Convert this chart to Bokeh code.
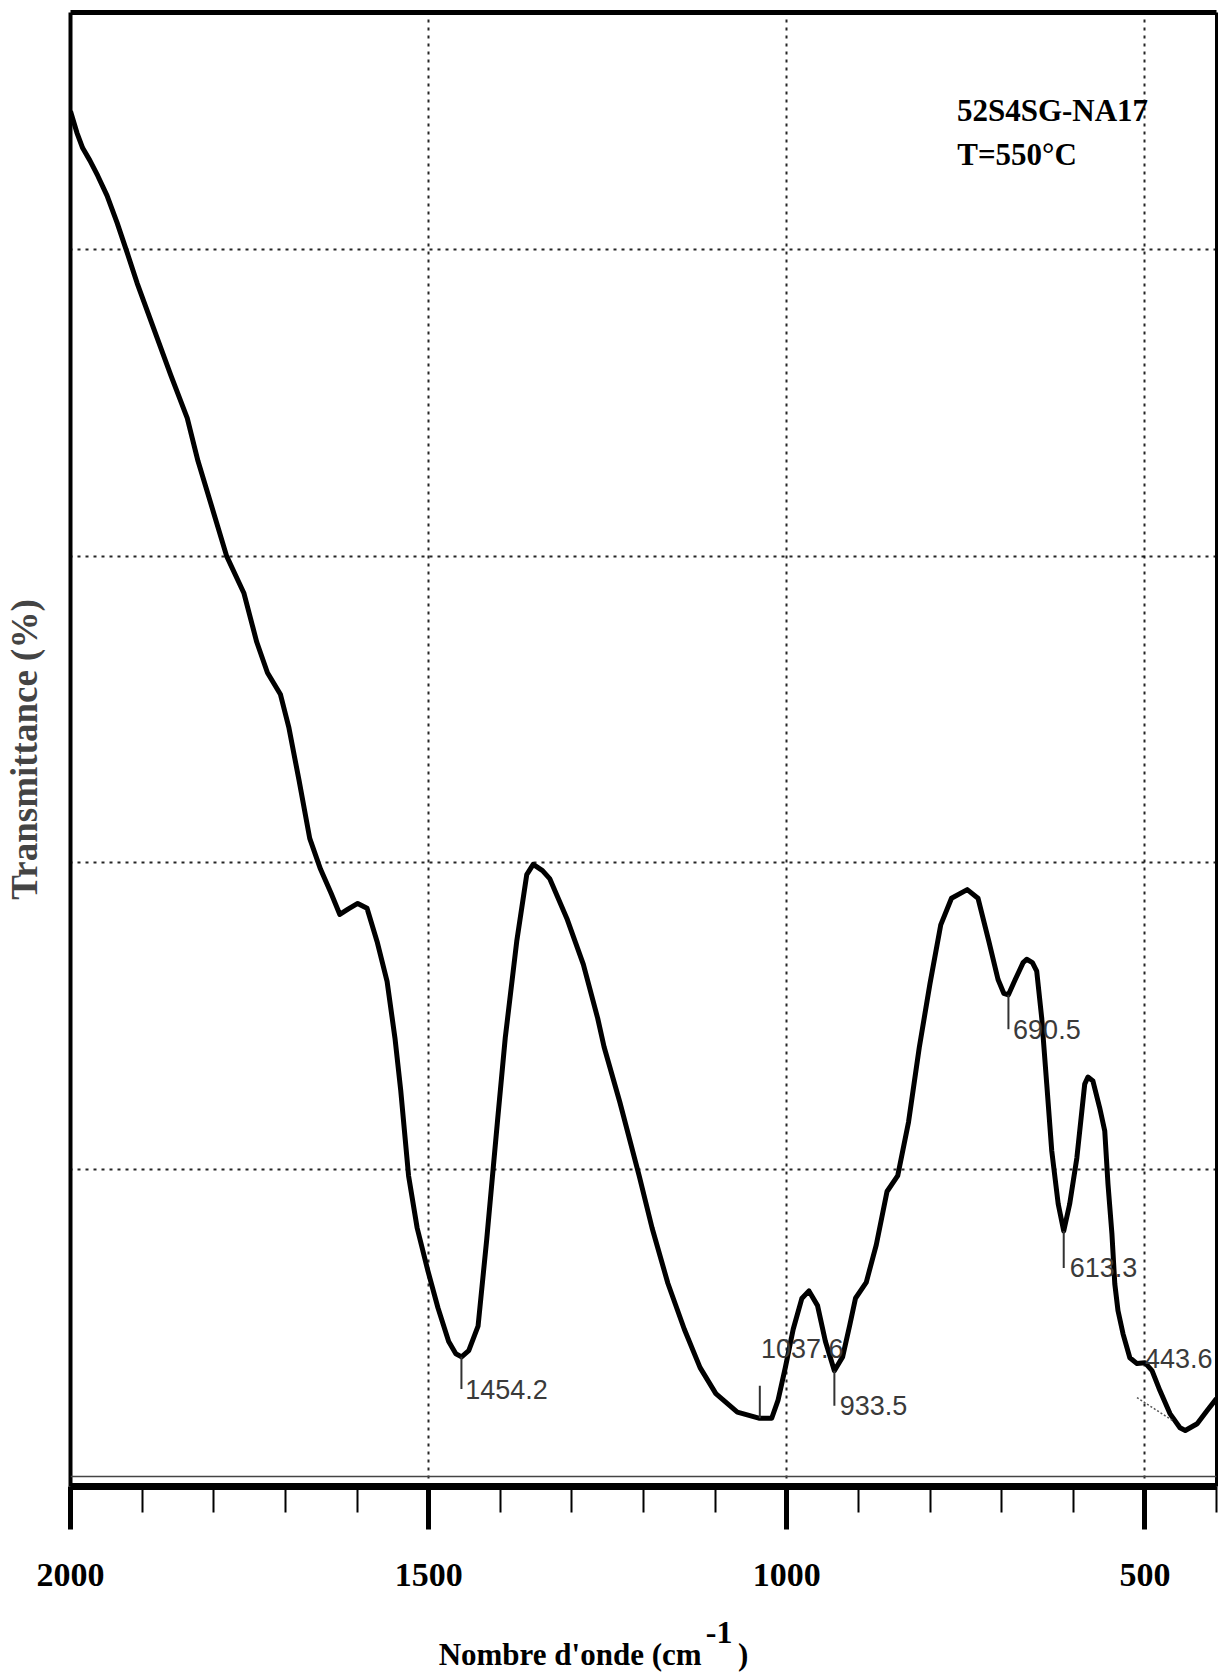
from bokeh.plotting import figure
from bokeh.layouts import column
from bokeh.models import Range1d, FixedTicker, LinearAxis, Span
from bokeh.core.properties import value
from bokeh.embed import file_html
from bokeh.resources import INLINE

# FTIR spectrum, 2000 -> 400 cm-1 (transmittance, arbitrary units)
wavenumber = [
    2000, 1991, 1983, 1973, 1962, 1949, 1935, 1921, 1907, 1882, 1860, 1837, 1822,
    1800, 1782, 1758, 1740, 1725, 1707, 1695, 1681, 1666, 1651, 1636, 1624, 1612,
    1599, 1586, 1572, 1558, 1547, 1539, 1528, 1516, 1501, 1487, 1472, 1462, 1454,
    1444, 1431, 1419, 1404, 1393, 1377, 1363, 1354, 1341, 1331, 1307, 1284, 1264,
    1255, 1233, 1206, 1188, 1166, 1143, 1121, 1099, 1069, 1039, 1021, 1012, 1002,
    991, 979, 969, 957, 946, 933.5, 922, 912, 904, 889, 875, 860, 845, 830, 815,
    800, 785, 770, 748, 733, 718, 705, 697, 690.5, 681, 670, 665, 657, 651, 644,
    637, 630, 621, 613.3, 605, 595, 588, 584, 579.5, 572.5, 563, 556, 551.5, 546,
    542, 537.5, 530.5, 521, 511, 500, 490, 479, 465, 451, 443.6, 427, 413, 400,
]
transmittance = [
    4.45, 4.38, 4.33, 4.29, 4.24, 4.175, 4.087, 3.99, 3.89, 3.73, 3.59, 3.45, 3.31,
    3.14, 3.00, 2.88, 2.72, 2.62, 2.55, 2.44, 2.27, 2.08, 1.98, 1.90, 1.832, 1.85,
    1.868, 1.852, 1.744, 1.614, 1.429, 1.26, 0.98, 0.81, 0.67, 0.55, 0.44, 0.40, 0.39,
    0.41, 0.49, 0.77, 1.155, 1.43, 1.744, 1.962, 1.995, 1.975, 1.949, 1.819, 1.669, 1.494,
    1.40, 1.22, 0.98, 0.81, 0.63, 0.48, 0.355, 0.27, 0.21, 0.19, 0.19, 0.25, 0.355,
    0.48, 0.58, 0.605, 0.557, 0.44, 0.345, 0.39, 0.494, 0.581, 0.633, 0.755, 0.929, 0.981, 1.155, 1.398,
    1.607, 1.798, 1.885, 1.913, 1.885, 1.746, 1.62, 1.575, 1.57, 1.62, 1.675, 1.686, 1.675, 1.647, 1.494,
    1.279, 1.061, 0.888, 0.80, 0.888, 1.038, 1.191, 1.279, 1.302, 1.289, 1.201, 1.126, 0.953, 0.791,
    0.628, 0.540, 0.465, 0.387, 0.368, 0.371, 0.345, 0.280, 0.205, 0.159, 0.15, 0.172, 0.215, 0.254,
]

# Marked band positions
peak_text = ["1454.2", "1037.6", "933.5", "690.5", "613.3", "443.6"]
peak_wn = [1454.2, 1037.6, 933.5, 690.5, 613.3, 443.6]

x_tick_labels = [2000, 1500, 1000, 500]

SERIF = "Liberation Serif"
MARK_FONT = "Liberation Sans"

x_range = Range1d(2000, 400)

p = figure(
    width=1219, height=1600,
    x_range=x_range, y_range=Range1d(-0.0326, 4.772),
    output_backend="svg", toolbar_location=None, tools="",
    min_border_left=70, min_border_right=3, min_border_top=12, min_border_bottom=114,
    outline_line_color=None, background_fill_color="white", border_fill_color="white",
)

# grids
p.xgrid.ticker = FixedTicker(ticks=[1500, 1000, 500])
p.ygrid.ticker = FixedTicker(ticks=[1, 2, 3, 4])
for g in (p.xgrid, p.ygrid):
    g.grid_line_color = "black"
    g.grid_line_width = 2
    g.grid_line_dash = "3 5"
    g.grid_line_alpha = 0.85

# bottom axis
xa = p.xaxis[0]
xa.ticker = FixedTicker(ticks=x_tick_labels, minor_ticks=list(range(400, 2001, 100)))
xa.axis_line_width = 7
xa.axis_line_color = "black"
xa.major_tick_in = 0
xa.major_tick_out = 43
xa.major_tick_line_width = 5
xa.minor_tick_in = 0
xa.minor_tick_out = 26
xa.minor_tick_line_width = 2
xa.major_label_standoff = 34
xa.major_label_text_font = SERIF
xa.major_label_text_font_style = "bold"
xa.major_label_text_font_size = "34px"
xa.major_label_text_color = "black"

# left axis (no tick labels)
ya = p.yaxis[0]
ya.ticker = FixedTicker(ticks=[])
ya.axis_line_width = 4
ya.major_tick_out = 0
ya.minor_tick_out = 0
ya.axis_label = "Transmittance (%)"
ya.axis_label_text_font = SERIF
ya.axis_label_text_font_style = "bold"
ya.axis_label_text_font_size = "37px"
ya.axis_label_standoff = 26

# frame: heavy top, thin right
top_ax = LinearAxis(ticker=FixedTicker(ticks=[]), axis_line_width=5,
                    major_tick_out=0, minor_tick_out=0)
right_ax = LinearAxis(ticker=FixedTicker(ticks=[]), axis_line_width=3,
                      major_tick_out=0, minor_tick_out=0)
p.add_layout(top_ax, "above")
p.add_layout(right_ax, "right")

# baseline trace
p.add_layout(Span(location=0, dimension="width", line_color="#444444", line_width=1.5))

# spectrum
p.line(wavenumber, transmittance, line_color="black", line_width=5, line_join="round")

# band marks
tick_x0 = [1454.2, 1037.6, 933.5, 690.5, 613.3]
tick_y0 = [0.39, 0.19, 0.345, 1.57, 0.80]
tick_y1 = [0.285, 0.296, 0.231, 1.458, 0.68]
p.segment(x0=tick_x0, y0=tick_y0, x1=tick_x0, y1=tick_y1, line_color="#333333", line_width=2)
p.segment(x0=[511], y0=[0.257], x1=[461], y1=[0.182], line_color="#555555",
          line_width=1.5, line_dash="2 2")

text_x = [1449, 1036, 926, 684, 605, 500]
text_y = [0.285, 0.416, 0.231, 1.458, 0.68, 0.384]
p.text(x=text_x, y=text_y, text=peak_text, text_font=value(MARK_FONT),
       text_font_size="27px", text_color="#3a3a3a", text_align="left",
       text_baseline="alphabetic")

# sample annotation
p.text(x=[762.4, 762.0], y=[4.452, 4.309], text=["52S4SG-NA17", "T=550°C"],
       text_font=value(SERIF), text_font_style="bold", text_font_size="31px",
       text_color="black", text_align="left", text_baseline="alphabetic")

# x-axis title strip, sharing the wavenumber scale, with superscript
t = figure(
    width=1219, height=75,
    x_range=x_range, y_range=Range1d(1675, 1600),
    output_backend="svg", toolbar_location=None, tools="",
    x_axis_location=None, y_axis_location=None,
    min_border_left=70, min_border_right=3, min_border_top=0, min_border_bottom=0,
    outline_line_color=None, background_fill_color="white", border_fill_color="white",
)
t.xgrid.visible = False
t.ygrid.visible = False
t.text(x=[1486, 1068], y=[1654, 1654], text=["Nombre d'onde (cm", ")"],
       text_font=value(SERIF), text_font_style="bold", text_font_size="31px",
       text_color="black", text_align="left", text_baseline="alphabetic")
t.text(x=[1113], y=[1632], text=["-1"],
       text_font=value(SERIF), text_font_style="bold", text_font_size="32px",
       text_color="black", text_align="left", text_baseline="alphabetic")

layout = column(p, t, spacing=0)
open("out.html", "w").write(file_html(layout, INLINE))
